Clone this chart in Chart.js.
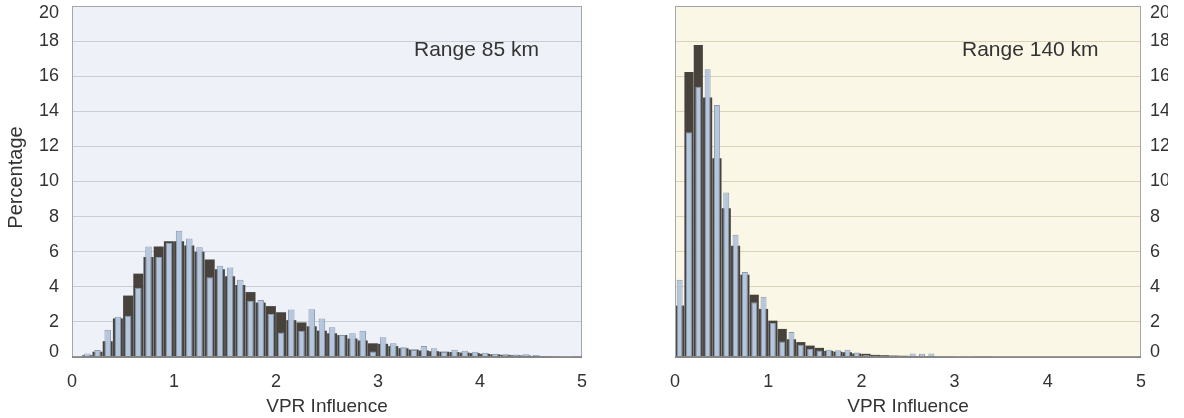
<!DOCTYPE html>
<html>
<head>
<meta charset="utf-8">
<script src="https://cdn.jsdelivr.net/npm/chart.js@4.4.1/dist/chart.umd.min.js"></script>
<style>
  html, body { margin: 0; padding: 0; background: #fff; }
  body { width: 1184px; height: 418px; position: relative; overflow: hidden; }
  .panel { position: absolute; top: 0; height: 418px; overflow: hidden; }
  #left { left: 0; width: 600px; }
  #right { left: 600px; width: 568px; }
</style>
</head>
<body>
<div class="panel" id="left"><canvas id="chartNear" width="600" height="418"></canvas></div>
<div class="panel" id="right"><canvas id="chartFar" width="568" height="418"></canvas></div>
<script>
// histogram bins are 0.1 wide, from 0 to 5
const binStarts = Array.from({ length: 50 }, (_, i) => Math.round(i * 10) / 100);
const binWidth = 0.1;

const xTicks = [0, 1, 2, 3, 4, 5];
const yTicks = [0, 2, 4, 6, 8, 10, 12, 14, 16, 18, 20];

// Range 85 km
const near85Dark = [
  0, 0.1, 0.3, 0.9, 2.2, 3.5, 4.75, 5.7, 6.3, 6.6,
  6.6, 6.35, 6.0, 5.55, 5.0, 4.6, 4.1, 3.7, 3.1, 2.9,
  2.55, 2.1, 1.97, 1.75, 1.5, 1.35, 1.25, 1.05, 0.94, 0.78,
  0.75, 0.62, 0.5, 0.42, 0.37, 0.33, 0.3, 0.28, 0.25, 0.22,
  0.18, 0.15, 0.12, 0.1, 0.08, 0.06, 0.05, 0.04, 0.03, 0.02
];
const near85Light = [
  0, 0.2, 0.4, 1.55, 2.3, 2.35, 3.95, 6.3, 5.7, 6.5,
  7.2, 6.75, 6.25, 4.55, 5.2, 5.1, 4.4, 3.2, 3.25, 2.45,
  1.4, 2.7, 1.5, 2.72, 2.2, 1.7, 1.27, 1.35, 1.5, 0.32,
  1.12, 0.78, 0.56, 0.42, 0.62, 0.5, 0.3, 0.42, 0.36, 0.3,
  0.24, 0.18, 0.15, 0.14, 0.15, 0.12, 0.05, 0.03, 0.02, 0.01
];

// Range 140 km
const far140Dark = [
  2.93, 16.24, 17.78, 14.78, 11.33, 8.48, 6.34, 4.69, 3.55, 2.74,
  2.07, 1.6, 1.01, 0.85, 0.65, 0.52, 0.35, 0.3, 0.27, 0.2,
  0.18, 0.12, 0.1, 0.08, 0.07, 0.06, 0.05, 0.05, 0.04, 0.04,
  0.03, 0.03, 0.02, 0.02, 0, 0, 0, 0, 0, 0,
  0, 0, 0, 0, 0, 0, 0, 0, 0, 0
];
const far140Light = [
  4.4, 12.8, 15.4, 16.4, 14.36, 9.37, 6.97, 4.85, 3.12, 3.43,
  1.94, 0.88, 1.43, 0.7, 0.45, 0.37, 0.42, 0.38, 0.42, 0.25,
  0.12, 0.08, 0.07, 0.06, 0.05, 0.2, 0.18, 0.2, 0.03, 0.02,
  0.02, 0.01, 0, 0, 0, 0, 0, 0, 0, 0,
  0, 0, 0, 0, 0, 0, 0, 0, 0, 0
];

const FONT = "'Liberation Sans', Arial, sans-serif";
const TEXT = "#333333";

function toPoints(values) {
  return values.map((v, i) => ({ x: binStarts[i] + binWidth / 2, y: v }));
}

// plot background, frame, y tick labels (end labels kept inside the frame height)
// and the free text labels
function panelDecor(cfg) {
  return {
    id: "panelDecor",
    beforeDraw(chart) {
      const { ctx, chartArea: a } = chart;
      ctx.save();
      ctx.fillStyle = cfg.background;
      ctx.fillRect(a.left, a.top, a.right - a.left, a.bottom - a.top);
      ctx.restore();
    },
    afterDraw(chart) {
      const { ctx, chartArea: a } = chart;
      const yScale = chart.scales.y;
      ctx.save();
      ctx.strokeStyle = "#a6a6a6";
      ctx.lineWidth = 1;
      ctx.strokeRect(a.left + 0.5, a.top + 0.5, a.right - a.left - 1, a.bottom - a.top);
      ctx.strokeStyle = "#7a7a7a";
      ctx.lineWidth = 1.5;
      ctx.beginPath();
      ctx.moveTo(a.left, a.bottom);
      ctx.lineTo(a.right, a.bottom);
      ctx.stroke();

      ctx.fillStyle = TEXT;
      ctx.textBaseline = "middle";
      ctx.font = "18px " + FONT;
      ctx.textAlign = cfg.yPosition === "left" ? "right" : "left";
      const lx = cfg.yPosition === "left" ? a.left - cfg.yPad : a.right + cfg.yPad;
      yScale.ticks.forEach((t) => {
        let y = yScale.getPixelForValue(t.value);
        y = Math.min(Math.max(y, a.top + 7), a.bottom - 5);
        ctx.fillText(String(t.value), lx, y);
      });

      ctx.font = "21px " + FONT;
      ctx.textAlign = "left";
      ctx.fillText(cfg.rangeText, cfg.rangeX, 50);

      ctx.font = "19px " + FONT;
      ctx.textAlign = "center";
      ctx.fillText("VPR Influence", (a.left + a.right) / 2, 407);

      if (cfg.yTitle) {
        ctx.translate(16, (a.top + a.bottom) / 2 - 4);
        ctx.rotate(-Math.PI / 2);
        ctx.font = "20px " + FONT;
        ctx.fillText(cfg.yTitle, 0, 0);
      }
      ctx.restore();
    }
  };
}

function makeChart(canvasId, dark, light, cfg) {
  const ctx = document.getElementById(canvasId).getContext("2d");
  return new Chart(ctx, {
    type: "bar",
    data: {
      datasets: [
        {
          label: "dark",
          data: toPoints(dark),
          backgroundColor: "#47423c",
          borderWidth: 0,
          grouped: false,
          categoryPercentage: 1,
          barPercentage: 0.98,
          order: 2
        },
        {
          label: "light",
          data: toPoints(light),
          backgroundColor: "#b5c7de",
          borderColor: "#8b9bb0",
          borderWidth: 1,
          grouped: false,
          categoryPercentage: 1,
          barPercentage: 0.64,
          order: 1
        }
      ]
    },
    options: {
      responsive: false,
      animation: false,
      layout: { padding: cfg.padding },
      plugins: { legend: { display: false }, tooltip: { enabled: false } },
      scales: {
        x: {
          type: "linear",
          min: 0,
          max: 5,
          offset: false,
          grid: { display: false, drawTicks: false },
          border: { display: false },
          afterBuildTicks: (s) => { s.ticks = xTicks.map((v) => ({ value: v })); },
          afterFit: (s) => { s.height = 61; s.paddingLeft = 0; s.paddingRight = 0; },
          ticks: { font: { family: FONT, size: 18 }, color: TEXT, padding: 14, maxRotation: 0 }
        },
        y: {
          position: cfg.yPosition,
          min: 0,
          max: 20,
          grid: { color: cfg.gridColor, lineWidth: 1, drawTicks: false },
          border: { display: false },
          afterBuildTicks: (s) => { s.ticks = yTicks.map((v) => ({ value: v })); },
          afterFit: (s) => { s.width = cfg.yWidth; s.paddingTop = 0; s.paddingBottom = 0; },
          ticks: { display: false }
        }
      }
    },
    plugins: [panelDecor(cfg)]
  });
}

makeChart("chartNear", near85Dark, near85Light, {
  background: "#eef2f8",
  gridColor: "#c9cdd4",
  yPosition: "left",
  yWidth: 72,
  yPad: 13,
  padding: { left: 0, right: 18, top: 6, bottom: 0 },
  rangeText: "Range 85 km",
  rangeX: 414,
  yTitle: "Percentage"
});

makeChart("chartFar", far140Dark, far140Light, {
  background: "#fbf7e6",
  gridColor: "#d9d3bb",
  yPosition: "right",
  yWidth: 27,
  yPad: 9,
  padding: { left: 75, right: 0, top: 6, bottom: 0 },
  rangeText: "Range 140 km",
  rangeX: 362,
  yTitle: null
});
</script>
</body>
</html>
